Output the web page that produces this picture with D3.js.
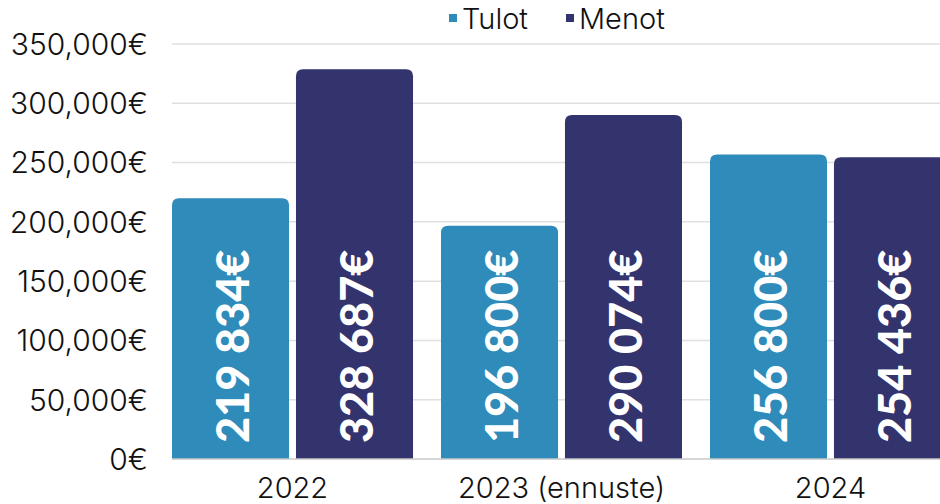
<!DOCTYPE html>
<html>
<head>
<meta charset="utf-8">
<script src="https://cdn.jsdelivr.net/npm/d3@7"></script>
<style>
  html, body { margin: 0; padding: 0; background: #fff; }
  svg { display: block; font-family: Inter, "Open Sans", sans-serif; }
</style>
</head>
<body>
<div id="chart"></div>
<script>
// chart data
const categories = ["2022", "2023 (ennuste)", "2024"];
const seriesNames = ["Tulot", "Menot"];
const tulot = [219834, 196800, 256800];
const menot = [328687, 290074, 254436];
const yTicks = [0, 50000, 100000, 150000, 200000, 250000, 300000, 350000];

const colors = {Tulot: "#2e8bba", Menot: "#33336e"};

const W = 940, H = 504;
const plotLeft = 172, plotTop = 44, plotBottom = 459;

const svg = d3.select("#chart").append("svg")
    .attr("width", W)
    .attr("height", H);

const y = d3.scaleLinear()
    .domain([0, 350000])
    .range([plotBottom, plotTop]);

// outer band per year, inner band per series
const x0 = d3.scaleBand()
    .domain(categories)
    .range([plotLeft, plotLeft + 3 * 269 - 28])
    .paddingInner(0.104)
    .paddingOuter(0);

const x1 = d3.scaleBand()
    .domain(seriesNames)
    .range([0, x0.bandwidth()])
    .paddingInner(0.056);

const fmt = v => d3.format(",")(v) + "€";
const fmtLabel = v => d3.format(",")(v).replace(/,/g, " ") + "€";

// gridlines
svg.append("g")
    .selectAll("line")
    .data(yTicks.slice(1))
    .join("line")
    .attr("x1", plotLeft)
    .attr("x2", W)
    .attr("y1", d => y(d))
    .attr("y2", d => y(d))
    .attr("stroke", "#e0e0e0")
    .attr("stroke-width", 1.5);

// y tick labels
svg.append("g")
    .selectAll("text")
    .data(yTicks)
    .join("text")
    .attr("x", 148)
    .attr("y", d => y(d))
    .attr("dy", "0.36em")
    .attr("text-anchor", "end")
    .attr("font-size", 30)
    .attr("font-weight", 300)
    .attr("fill", "#111")
    .text(fmt);

const rows = categories.map((c, i) => ({
    cat: c,
    values: [
        {key: "Tulot", value: tulot[i]},
        {key: "Menot", value: menot[i]}
    ]
}));

// bar with rounded top corners
function barPath(x, w, top, bottom, r) {
    return `M${x},${bottom}V${top + r}Q${x},${top} ${x + r},${top}` +
        `H${x + w - r}Q${x + w},${top} ${x + w},${top + r}V${bottom}Z`;
}

const groups = svg.append("g")
    .selectAll("g")
    .data(rows)
    .join("g")
    .attr("transform", d => `translate(${x0(d.cat)},0)`);

groups.selectAll("path")
    .data(d => d.values)
    .join("path")
    .attr("fill", d => colors[d.key])
    .attr("d", d => barPath(x1(d.key), x1.bandwidth(), y(d.value), plotBottom, 7));

// value labels inside bars, rotated
groups.selectAll("text")
    .data(d => d.values)
    .join("text")
    .attr("transform", d => `translate(${x1(d.key) + x1.bandwidth() / 2 + 2},${plotBottom - 16}) rotate(-90)`)
    .attr("dy", "0.36em")
    .attr("text-anchor", "start")
    .attr("font-family", "Lato, sans-serif")
    .attr("font-size", 45)
    .attr("font-weight", 900)
    .attr("fill", "#fff")
    .text(d => fmtLabel(d.value));

// baseline
svg.append("line")
    .attr("x1", plotLeft)
    .attr("x2", W)
    .attr("y1", plotBottom)
    .attr("y2", plotBottom)
    .attr("stroke", "#c8c8c8")
    .attr("stroke-width", 1.5);

// category labels
svg.append("g")
    .selectAll("text")
    .data(categories)
    .join("text")
    .attr("x", d => x0(d) + x0.bandwidth() / 2)
    .attr("y", 498)
    .attr("text-anchor", "middle")
    .attr("font-size", 29)
    .attr("font-weight", 300)
    .attr("fill", "#111")
    .text(d => d);

// legend
const legend = svg.append("g");
const legendPos = [449, 566];
seriesNames.forEach((s, i) => {
    legend.append("rect")
        .attr("x", legendPos[i])
        .attr("y", 14)
        .attr("width", 8)
        .attr("height", 8)
        .attr("fill", colors[s]);
    legend.append("text")
        .attr("x", legendPos[i] + 13)
        .attr("y", 29)
        .attr("font-size", 29)
        .attr("font-weight", 300)
        .attr("fill", "#111")
        .text(s);
});
</script>
</body>
</html>
